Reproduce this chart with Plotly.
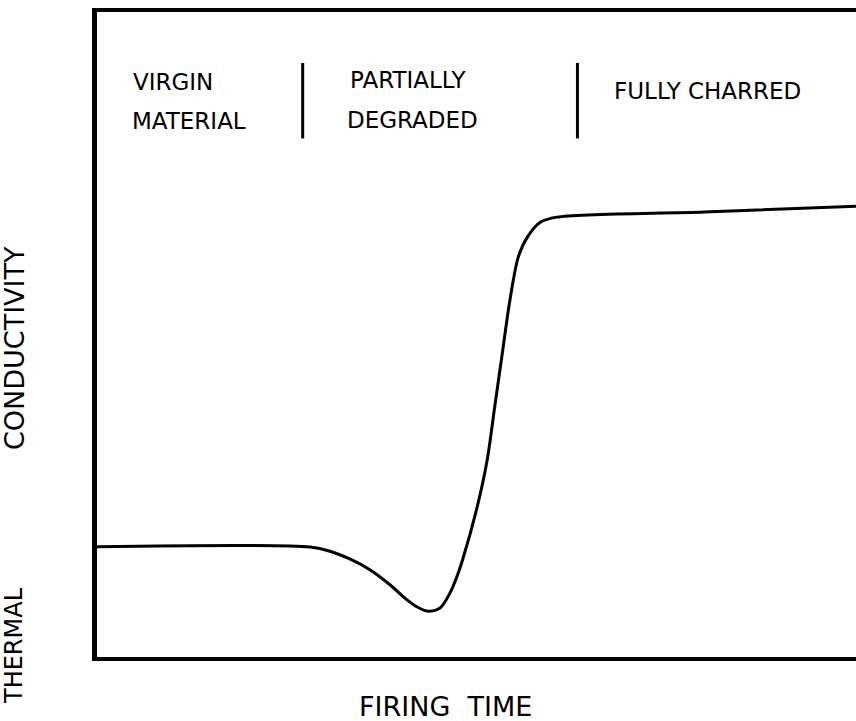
import plotly.graph_objects as go

# Conductivity history of an ablating material over firing time (relative units)
firing_time = [0, 28.1, 30.7, 33.3, 36.0, 38.6, 40.6, 42.2, 43.6, 45.2, 46.5,
               47.4, 48.2, 50.1, 51.4, 52.4, 53.4, 54.4, 55.5, 56.7, 58.4, 60.6, 80.0, 100]
conductivity = [17.1, 17.05, 16.4, 15.2, 13.5, 11.2, 9.1, 7.75, 7.1, 7.6, 9.9,
                12.4, 15.2, 23.3, 30.5, 38.8, 47.1, 55.3, 62.0, 65.1, 67.4, 68.2, 69.0, 69.9]

# Material-state regions along the time axis
region_labels = [
    ("VIRGIN", 0.100, 0.892),
    ("MATERIAL", 0.121, 0.831),
    ("PARTIALLY", 0.410, 0.895),
    ("DEGRADED", 0.416, 0.833),
    ("FULLY CHARRED", 0.805, 0.877),
]
region_dividers = [0.271, 0.633]

FONT = "DejaVu Sans"

fig = go.Figure()
fig.add_trace(go.Scatter(
    x=firing_time, y=conductivity, mode="lines",
    line=dict(color="black", width=3, shape="spline", smoothing=0.85),
    hoverinfo="skip", showlegend=False,
))

for text, xp, yp in region_labels:
    fig.add_annotation(x=xp, y=yp, xref="paper", yref="paper", text=text,
                       showarrow=False, xanchor="center", yanchor="middle",
                       font=dict(family=FONT, size=23, color="black"))

for xp in region_dividers:
    fig.add_shape(type="line", xref="paper", yref="paper",
                  x0=xp, x1=xp, y0=0.921, y1=0.804,
                  line=dict(color="black", width=3))

# Axis titles, placed well clear of the frame
fig.add_annotation(x=0.459, y=0, xref="paper", yref="paper", yshift=-49,
                   text="FIRING\u00a0\u00a0TIME", showarrow=False,
                   xanchor="center", yanchor="middle",
                   font=dict(family=FONT, size=27, color="black"))
fig.add_annotation(x=0, y=0.017, xref="paper", yref="paper", xshift=-83,
                   text="THERMAL", textangle=-90, showarrow=False,
                   xanchor="center", yanchor="middle",
                   font=dict(family=FONT, size=24, color="black"))
fig.add_annotation(x=0, y=0.479, xref="paper", yref="paper", xshift=-83,
                   text="CONDUCTIVITY", textangle=-90, showarrow=False,
                   xanchor="center", yanchor="middle",
                   font=dict(family=FONT, size=27, color="black"))

fig.update_layout(
    width=856, height=721,
    margin=dict(l=97, r=0, t=12, b=64),
    paper_bgcolor="white", plot_bgcolor="white",
    xaxis=dict(range=[0, 100], showgrid=False, zeroline=False, showticklabels=False,
               ticks="", showline=True, mirror=True, linecolor="black", linewidth=4),
    yaxis=dict(range=[0, 100], showgrid=False, zeroline=False, showticklabels=False,
               ticks="", showline=True, linecolor="black", linewidth=5),
)

fig.write_html("out.html")
